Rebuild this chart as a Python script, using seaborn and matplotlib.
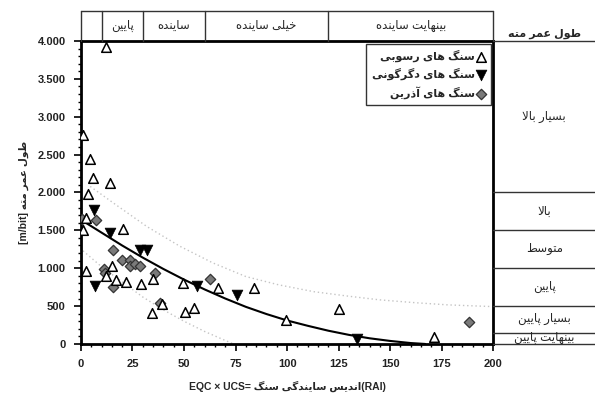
import matplotlib
matplotlib.use('Agg')
import matplotlib.pyplot as plt
import seaborn as sns
import pandas as pd

# === DATA ===
# sedimentary rocks (open triangles)
sed_x = [12.3, 1.2, 4.5, 5.8, 13.9, 3.6, 2.5, 0.8, 20.4, 2.6, 15.0, 12.3, 17.1, 22.0, 29.1,
         34.9, 49.5, 66.3, 83.8, 99.7, 34.4, 39.3, 50.6, 54.7, 125.0, 171.5]
sed_y = [3915, 2765, 2440, 2195, 2125, 1980, 1665, 1508, 1517, 957, 1032, 900, 838, 824, 794,
         860, 803, 737, 745, 310, 414, 530, 428, 472, 465, 97]
# metamorphic rocks (filled down triangles)
met_x = [6.3, 14.2, 28.8, 32.0, 6.9, 56.2, 75.6, 134.0]
met_y = [1768, 1460, 1243, 1243, 767, 767, 645, 65]
# igneous rocks (grey diamonds)
ign_x = [0.5, 7.4, 15.8, 19.9, 23.6, 23.9, 26.4, 28.8, 11.0, 11.5, 15.5, 36.0, 62.4, 38.5, 188.3]
ign_y = [1655, 1630, 1243, 1102, 1111, 1023, 1058, 1023, 988, 940, 750, 943, 856, 535, 287]

# trend line and the two dotted bands
fit_x = [0, 10, 20, 30, 40, 50, 60, 70, 80, 90, 100, 110, 120, 130, 140, 150, 160, 167]
fit_y = [1640, 1470, 1300, 1140, 990, 850, 720, 600, 490, 395, 310, 240, 175, 120, 75, 40, 12, 0]
up_x = [4.5, 15.8, 32, 48, 64, 80, 96, 113, 130, 145, 162, 178, 199]
up_y = [2080, 1860, 1550, 1290, 1070, 890, 780, 690, 630, 582, 545, 516, 494]
lo_x = [1, 10, 20, 30, 40, 50, 60, 68, 74]
lo_y = [1230, 1020, 820, 620, 450, 300, 165, 70, 0]

y_ticks = [0, 500, 1000, 1500, 2000, 2500, 3000, 3500, 4000]
y_tick_labels = ['0', '500', '1.000', '1.500', '2.000', '2.500', '3.000', '3.500', '4.000']
x_ticks = [0, 25, 50, 75, 100, 125, 150, 175, 200]

# abrasiveness classes (top band) and bit life classes (right band)
top_edges = [0, 10, 30, 60, 120, 200]
top_labels = ['', 'پایین', 'ساینده', 'خیلی ساینده', 'بینهایت ساینده']
right_edges = [0, 150, 500, 1000, 1500, 2000, 4000]
right_labels = ['بینهایت پایین', 'بسیار پایین', 'پایین', 'متوسط', 'بالا', 'بسیار بالا']

legend_labels = ['سنگ های رسوبی', 'سنگ های دگرگونی', 'سنگ های آذرین']
ylabel_fa = 'طول عمر مته'
header_fa = 'طول عمر مته'
xlabel_fa = 'اندیس سایندگی سنگ'


# === tiny persian shaper (no arabic_reshaper in the sandbox) ===
FORMS = {
    'ا': ('\uFE8D', '\uFE8E', None, None), 'آ': ('\uFE81', '\uFE82', None, None),
    'ب': ('\uFE8F', '\uFE90', '\uFE91', '\uFE92'), 'پ': ('\uFB56', '\uFB57', '\uFB58', '\uFB59'),
    'ت': ('\uFE95', '\uFE96', '\uFE97', '\uFE98'), 'خ': ('\uFEA5', '\uFEA6', '\uFEA7', '\uFEA8'),
    'د': ('\uFEA9', '\uFEAA', None, None), 'ذ': ('\uFEAB', '\uFEAC', None, None),
    'ر': ('\uFEAD', '\uFEAE', None, None), 'ز': ('\uFEAF', '\uFEB0', None, None),
    'س': ('\uFEB1', '\uFEB2', '\uFEB3', '\uFEB4'), 'ط': ('\uFEC1', '\uFEC2', '\uFEC3', '\uFEC4'),
    'ع': ('\uFEC9', '\uFECA', '\uFECB', '\uFECC'), 'ک': ('\uFB8E', '\uFB8F', '\uFB90', '\uFB91'),
    'گ': ('\uFB92', '\uFB93', '\uFB94', '\uFB95'), 'ل': ('\uFEDD', '\uFEDE', '\uFEDF', '\uFEE0'),
    'م': ('\uFEE1', '\uFEE2', '\uFEE3', '\uFEE4'), 'ن': ('\uFEE5', '\uFEE6', '\uFEE7', '\uFEE8'),
    'ه': ('\uFEE9', '\uFEEA', '\uFEEB', '\uFEEC'), 'و': ('\uFEED', '\uFEEE', None, None),
    'ی': ('\uFBFC', '\uFBFD', '\uFBFE', '\uFBFF'),
}
RIGHT_ONLY = set('اآدذرزو')


def fa(text):
    text = text.replace('\u064A', 'ی').replace('\u0643', 'ک')
    out = []
    i = 0
    while i < len(text):
        c = text[i]
        prev = text[i - 1] if i > 0 else ''
        joins_prev = prev in FORMS and prev not in RIGHT_ONLY
        if c == 'ل' and i + 1 < len(text) and text[i + 1] == 'ا':
            out.append('\uFEFC' if joins_prev else '\uFEFB')
            i += 2
            continue
        if c not in FORMS:
            out.append(c)
            i += 1
            continue
        nxt = text[i + 1] if i + 1 < len(text) else ''
        joins_next = nxt in FORMS and c not in RIGHT_ONLY
        iso, fin, ini, med = FORMS[c]
        if joins_prev and joins_next:
            out.append(med)
        elif joins_prev:
            out.append(fin)
        elif joins_next:
            out.append(ini)
        else:
            out.append(iso)
        i += 1
    return ''.join(out)[::-1]


# === FIGURE ===
sns.set_theme(style='white')
plt.rcParams['font.family'] = ['Liberation Sans', 'DejaVu Sans']

fig = plt.figure(figsize=(5.95, 3.94), dpi=100)
ax_l, ax_b, ax_w, ax_h = 0.136, 0.127, 0.693, 0.769
ax = fig.add_axes([ax_l, ax_b, ax_w, ax_h])

sed = pd.DataFrame({'x': sed_x, 'y': sed_y})
met = pd.DataFrame({'x': met_x, 'y': met_y})
ign = pd.DataFrame({'x': ign_x, 'y': ign_y})

sns.lineplot(x=up_x, y=up_y, ax=ax, color='#c4c4c4', lw=1, linestyle=(0, (1, 2)), sort=False)
sns.lineplot(x=lo_x, y=lo_y, ax=ax, color='#c4c4c4', lw=1, linestyle=(0, (1, 2)), sort=False)
sns.lineplot(x=fit_x, y=fit_y, ax=ax, color='black', lw=1.5, sort=False)

sns.scatterplot(data=ign, x='x', y='y', ax=ax, marker='D', s=28, color='#7a7a7a',
                edgecolor='#333333', linewidth=0.9, label=fa(legend_labels[2]), zorder=3)
sns.scatterplot(data=met, x='x', y='y', ax=ax, marker='v', s=60, color='black',
                edgecolor='black', linewidth=0.5, label=fa(legend_labels[1]), zorder=3)
sns.scatterplot(data=sed, x='x', y='y', ax=ax, marker='^', s=48, facecolor='white',
                edgecolor='black', linewidth=1.1, label=fa(legend_labels[0]), zorder=4)

ax.set_xlim(0, 200)
ax.set_ylim(0, 4000)
ax.set_xticks(x_ticks)
ax.set_xticklabels([str(v) for v in x_ticks])
ax.set_yticks(y_ticks)
ax.set_yticklabels(y_tick_labels)
ax.set_xticks(range(0, 201, 5), minor=True)
ax.set_yticks(range(0, 4001, 100), minor=True)
ax.tick_params(axis='both', which='major', length=5, width=1.2, color='black',
               labelsize=8, direction='out', bottom=True, left=True, pad=6)
ax.tick_params(axis='both', which='minor', length=2.5, width=1, color='black',
               direction='out', bottom=True, left=True)
for t in ax.get_xticklabels() + ax.get_yticklabels():
    t.set_fontweight('bold')
    t.set_color('#222222')
for sp in ax.spines.values():
    sp.set_color('black')
    sp.set_linewidth(2)

ax.set_xlabel('EQC × UCS= ' + fa(xlabel_fa) + '(RAI)', fontsize=7.5, fontweight='bold', labelpad=8)
ax.set_ylabel('[m/bit] ' + fa(ylabel_fa), fontsize=7.5, fontweight='bold', labelpad=6)

# legend in the upper right, markers on the right side of the text
handles, labels = ax.get_legend_handles_labels()
leg = ax.legend(handles[::-1], labels[::-1], loc='upper right', bbox_to_anchor=(0.995, 0.99),
                borderaxespad=0, markerfirst=False, frameon=True, fancybox=False,
                prop={'size': 8, 'weight': 'bold'}, labelspacing=0.55, handletextpad=0.1,
                borderpad=0.5, handlelength=0.9)
leg.get_frame().set_edgecolor('black')
leg.get_frame().set_linewidth(1.0)

# === top band: abrasiveness classes ===
ax_top = fig.add_axes([ax_l, ax_b + ax_h, ax_w, 0.076], sharex=ax)
ax_top.set_ylim(0, 1)
ax_top.axis('off')
ax_top.plot([0, 200], [1, 1], color='#333333', lw=1, clip_on=False)
for e in top_edges:
    ax_top.plot([e, e], [0, 1], color='#333333', lw=1, clip_on=False)
for i, lab in enumerate(top_labels):
    if lab:
        ax_top.text((top_edges[i] + top_edges[i + 1]) / 2, 0.5, fa(lab), ha='center',
                    va='center', fontsize=8.5)

# === right band: bit life classes ===
ax_r = fig.add_axes([ax_l + ax_w, ax_b, 1 - ax_l - ax_w, ax_h], sharey=ax)
ax_r.set_xlim(0, 1)
ax_r.axis('off')
for e in right_edges:
    ax_r.plot([0, 1], [e, e], color='#333333', lw=1, clip_on=False)
for i, lab in enumerate(right_labels):
    ax_r.text(0.5, (right_edges[i] + right_edges[i + 1]) / 2, fa(lab), ha='center',
              va='center', fontsize=8.5)
fig.text(ax_l + ax_w + (1 - ax_l - ax_w) / 2, 0.915, fa(header_fa), ha='center',
         va='center', fontsize=8, fontweight='bold')

fig.savefig('out.png', dpi=100, facecolor='white')
